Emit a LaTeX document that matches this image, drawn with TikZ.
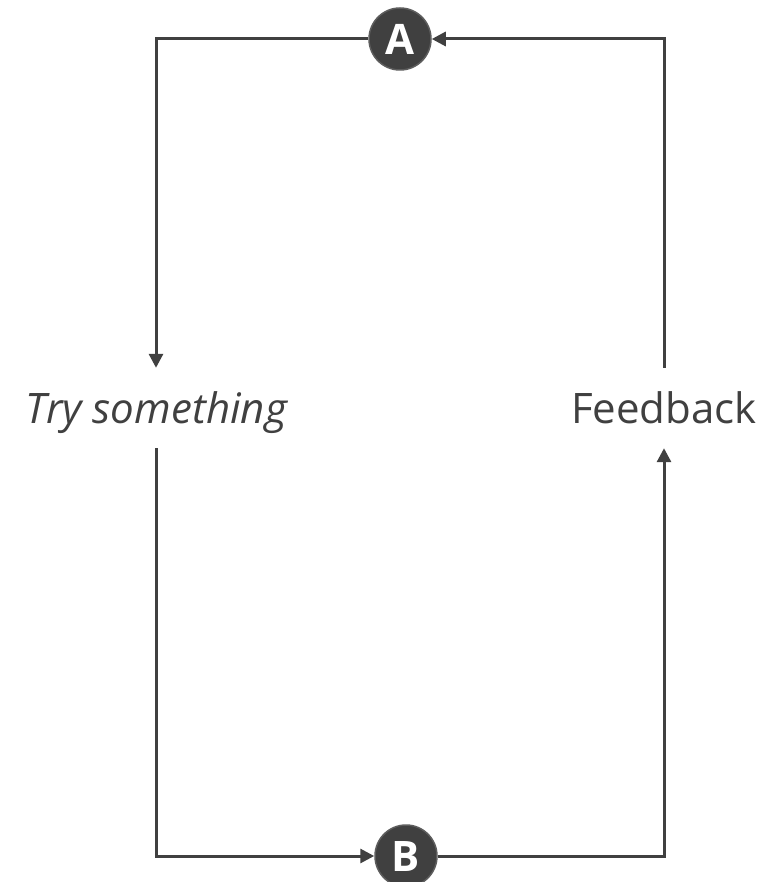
\documentclass[tikz,border=0pt]{standalone}
\usepackage{fontspec}
\setmainfont{Open Sans}
\usetikzlibrary{arrows.meta}
\definecolor{ink}{HTML}{404040}
\tikzset{
  conn/.style={draw=ink, line width=3pt, -{Triangle[length=14pt,width=14pt]}},
  plain/.style={draw=ink, line width=3pt},
  badge/.style={circle, fill=ink, draw=ink!85!white, line width=1.5pt, minimum size=62pt, inner sep=0pt,
    text=white, font=\fontsize{42}{42}\selectfont\bfseries},
  label/.style={text=ink, font=\fontsize{42}{42}\selectfont, text height=30pt, text depth=0pt,
    inner ysep=25pt, inner xsep=0pt, anchor=base}
}
\begin{document}
\begin{tikzpicture}[x=1pt,y=-1pt]
\clip (0,0) rectangle (766,882);
\fill[white] (0,0) rectangle (766,882);
\node[label, font=\fontsize{42}{42}\selectfont\itshape] (try) at (156,423) {Try something};
\node[label] (fb) at (664,423) {Feedback};
\coordinate (tl) at (156,39);
\coordinate (tr) at (664,39);
\coordinate (bl) at (156,856);
\coordinate (br) at (664,856);
\node[badge] (A) at (400,39) {A};
\node[badge] (B) at (406,856) {B};
\draw[conn] (A.west) -- (tl) -- (try.north);
\draw[conn] (try.south) -- (bl) -- (B.west);
\draw[conn] (B.east) -- (br) -- (fb.south);
\draw[conn] (fb.north) -- (tr) -- (A.east);
\end{tikzpicture}
\end{document}
